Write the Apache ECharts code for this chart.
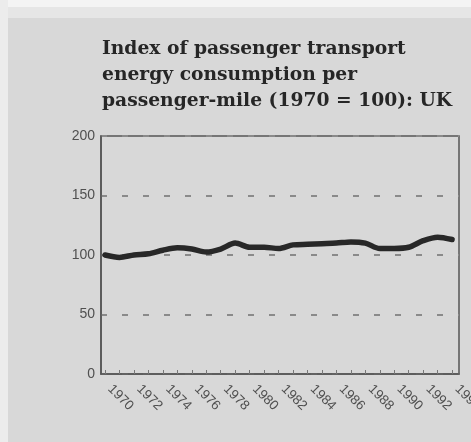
<!DOCTYPE html>
<html>
<head>
<meta charset="utf-8">
<script src="https://cdn.jsdelivr.net/npm/echarts@6/dist/echarts.min.js"></script>
<style>
    html, body { margin: 0; padding: 0; background: #d8d8d8; }
    #chart { width: 471px; height: 442px; }
</style>
</head>
<body>
<div id="chart"></div>
<script>
// Index of passenger transport energy consumption per passenger-mile (1970 = 100): UK
const years = [1970, 1971, 1972, 1973, 1974, 1975, 1976, 1977, 1978, 1979, 1980, 1981, 1982,
    1983, 1984, 1985, 1986, 1987, 1988, 1989, 1990, 1991, 1992, 1993, 1994]
const indexValues = [100, 98, 100, 101, 104, 106, 105, 102.5, 105, 110, 106.5, 106.5, 105.5,
    108.5, 109, 109.5, 110, 111, 110, 105.5, 105.5, 106.5, 112, 115, 113]
const yearLabels = [1970, 1972, 1974, 1976, 1978, 1980, 1982, 1984, 1986, 1988, 1990, 1992, 1994]
const yTicks = [0, 50, 100, 150, 200]

const chart = echarts.init(document.getElementById('chart'))
const axisColor = '#555'
const textColor = '#505050'

const option = {
    backgroundColor: '#d8d8d8',
    animation: false,
    graphic: [
        { type: 'rect', z: -1, silent: true, shape: { x: 0, y: 0, width: 471, height: 18 }, style: { fill: '#e6e6e6' } },
        { type: 'rect', z: -1, silent: true, shape: { x: 0, y: 0, width: 471, height: 7 }, style: { fill: '#f4f4f4' } },
        { type: 'rect', z: -1, silent: true, shape: { x: 0, y: 0, width: 8, height: 442 }, style: { fill: '#ececec' } }
    ],
    title: {
        text: 'Index of passenger transport\nenergy consumption per\npassenger-mile (1970 = 100): UK',
        left: 97,
        top: 31,
        textStyle: {
            fontFamily: 'DejaVu Serif',
            fontWeight: 'bold',
            fontSize: 18.7,
            lineHeight: 26,
            color: '#262626'
        }
    },
    grid: {
        left: 101,
        right: 12,
        top: 136,
        bottom: 68,
        outerBoundsMode: 'none',
        show: true,
        borderColor: axisColor,
        borderWidth: 1.5,
        backgroundColor: 'transparent'
    },
    xAxis: {
        type: 'value',
        min: 1969.72,
        max: 1994.48,
        axisLine: { lineStyle: { color: axisColor, width: 1.5 } },
        axisTick: {
            customValues: years,
            inside: true,
            length: 4,
            lineStyle: { color: '#777' }
        },
        axisLabel: {
            customValues: yearLabels,
            rotate: -45,
            margin: 8,
            padding: [0, 0, 0, 7],
            fontFamily: 'Liberation Sans',
            fontSize: 13.5,
            color: textColor,
            formatter: v => String(v)
        },
        splitLine: { show: false }
    },
    yAxis: {
        type: 'value',
        min: yTicks[0],
        max: yTicks[yTicks.length - 1],
        interval: 50,
        axisLine: { show: true, lineStyle: { color: axisColor, width: 1.5 } },
        axisTick: { show: false },
        axisLabel: {
            margin: 6,
            fontFamily: 'Liberation Sans',
            fontSize: 14,
            color: textColor
        },
        splitLine: {
            show: true,
            lineStyle: { color: '#8a8a8a', width: 2, type: [6, 15] }
        }
    },
    series: [
        {
            type: 'line',
            data: years.map((y, i) => [y, indexValues[i]]),
            showSymbol: false,
            smooth: 0.3,
            lineStyle: { color: '#282828', width: 5.5, cap: 'round', join: 'round' }
        }
    ]
}

chart.setOption(option)
</script>
</body>
</html>
